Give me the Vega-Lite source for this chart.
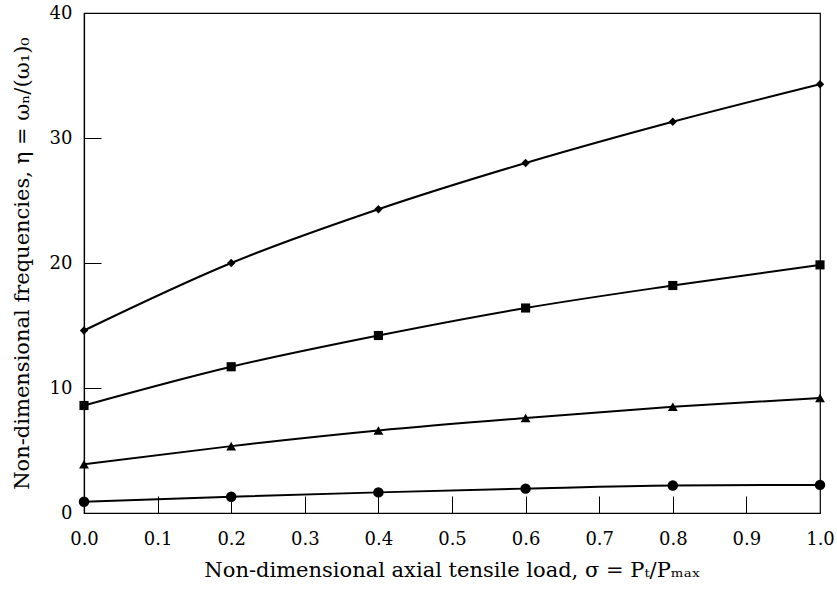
{
  "$schema": "https://vega.github.io/schema/vega-lite/v6.json",
  "width": 736,
  "height": 500,
  "autosize": {"type": "none"},
  "padding": {"left": 84, "top": 13, "right": 17, "bottom": 77},
  "background": "white",
  "config": {
    "view": {"stroke": "black", "strokeWidth": 1.2},
    "font": "DejaVu Serif",
    "axis": {
      "grid": false,
      "domainColor": "black",
      "domainWidth": 1.2,
      "labelColor": "black",
      "titleColor": "black",
      "labelFont": "DejaVu Serif",
      "titleFont": "DejaVu Serif",
      "labelFontSize": 18,
      "titleFontSize": 21,
      "titleFontWeight": "normal",
      "labelFlush": false,
      "labelOverlap": false
    }
  },
  "data": {
    "values": [
      {"s": 0.0, "eta": 14.6, "mode": "m4"},
      {"s": 0.2, "eta": 20.0, "mode": "m4"},
      {"s": 0.4, "eta": 24.3, "mode": "m4"},
      {"s": 0.6, "eta": 28.0, "mode": "m4"},
      {"s": 0.8, "eta": 31.3, "mode": "m4"},
      {"s": 1.0, "eta": 34.3, "mode": "m4"},
      {"s": 0.0, "eta": 8.6, "mode": "m3"},
      {"s": 0.2, "eta": 11.7, "mode": "m3"},
      {"s": 0.4, "eta": 14.2, "mode": "m3"},
      {"s": 0.6, "eta": 16.4, "mode": "m3"},
      {"s": 0.8, "eta": 18.2, "mode": "m3"},
      {"s": 1.0, "eta": 19.85, "mode": "m3"},
      {"s": 0.0, "eta": 3.9, "mode": "m2"},
      {"s": 0.2, "eta": 5.35, "mode": "m2"},
      {"s": 0.4, "eta": 6.6, "mode": "m2"},
      {"s": 0.6, "eta": 7.6, "mode": "m2"},
      {"s": 0.8, "eta": 8.5, "mode": "m2"},
      {"s": 1.0, "eta": 9.2, "mode": "m2"},
      {"s": 0.0, "eta": 0.9, "mode": "m1"},
      {"s": 0.2, "eta": 1.3, "mode": "m1"},
      {"s": 0.4, "eta": 1.65, "mode": "m1"},
      {"s": 0.6, "eta": 1.95, "mode": "m1"},
      {"s": 0.8, "eta": 2.2, "mode": "m1"},
      {"s": 1.0, "eta": 2.25, "mode": "m1"}
    ]
  },
  "layer": [
    {
      "mark": {"type": "line", "interpolate": "monotone", "color": "black", "strokeWidth": 2},
      "encoding": {
        "x": {
          "field": "s",
          "type": "quantitative",
          "scale": {"domain": [0, 1], "nice": false, "zero": false},
          "axis": {
            "orient": "bottom",
            "values": [0, 0.1, 0.2, 0.3, 0.4, 0.5, 0.6, 0.7, 0.8, 0.9, 1.0],
            "format": ".1f",
            "ticks": false,
            "labelPadding": 17,
            "titlePadding": 11,
            "title": "Non-dimensional axial tensile load,  σ = Pₜ/Pₘₐₓ"
          }
        },
        "y": {
          "field": "eta",
          "type": "quantitative",
          "scale": {"domain": [0, 40], "nice": false},
          "axis": {
            "orient": "left",
            "values": [0, 10, 20, 30, 40],
            "format": "d",
            "ticks": false,
            "labelPadding": 12,
            "titlePadding": 17,
            "title": "Non-dimensional frequencies,  η = ωₙ/(ω₁)₀"
          }
        },
        "detail": {"field": "mode"}
      }
    },
    {
      "mark": {"type": "point", "filled": true, "color": "black", "opacity": 1},
      "encoding": {
        "x": {
          "field": "s",
          "type": "quantitative",
          "axis": {
            "orient": "bottom",
            "offset": -17,
            "values": [0.1, 0.2, 0.3, 0.4, 0.5, 0.6, 0.7, 0.8, 0.9],
            "domain": false,
            "labels": false,
            "tickColor": "black",
            "tickSize": 17,
            "title": null
          }
        },
        "y": {
          "field": "eta",
          "type": "quantitative",
          "axis": {
            "orient": "left",
            "offset": -17,
            "values": [10, 20, 30],
            "domain": false,
            "labels": false,
            "tickColor": "black",
            "tickSize": 17,
            "title": null
          }
        },
        "shape": {
          "field": "mode",
          "type": "nominal",
          "scale": {"domain": ["m1", "m2", "m3", "m4"], "range": ["circle", "triangle-up", "square", "diamond"]},
          "legend": null
        },
        "size": {
          "field": "mode",
          "type": "nominal",
          "scale": {"domain": ["m1", "m2", "m3", "m4"], "range": [110, 70, 80, 50]},
          "legend": null
        }
      }
    }
  ],
  "resolve": {"axis": {"x": "independent", "y": "independent"}}
}
